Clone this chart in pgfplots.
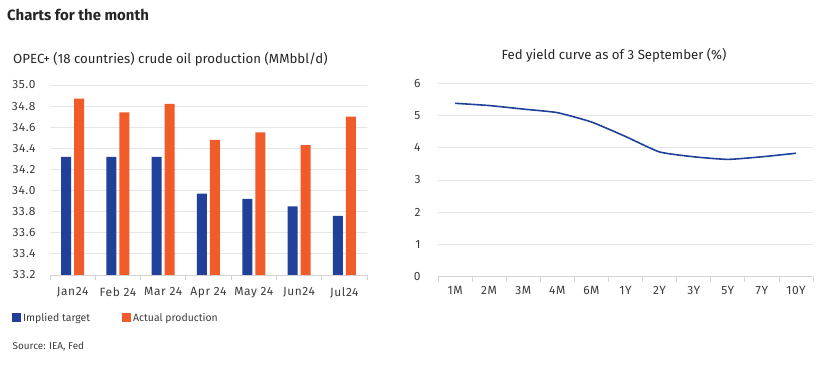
\documentclass[border=0pt]{standalone}
\usepackage{fontspec}
\setmainfont{Fira Sans}
\newfontfamily\tickfont{Fira Sans}[LetterSpace=5]
\usepackage{pgfplots}
\pgfplotsset{compat=1.18}
\definecolor{cblue}{HTML}{21409A}
\definecolor{corange}{HTML}{F15A29}
\definecolor{cgrid}{HTML}{E6E6E6}
\definecolor{caxis}{HTML}{D4D4D4}
\definecolor{ctext}{HTML}{3C3C3C}

\pgfplotsset{
  mystyle/.style={
    scale only axis,
    anchor=south west,
    axis x line*=bottom,
    axis y line*=left,
    y axis line style={draw=none},
    x axis line style={caxis, line width=0.8bp},
    ymajorgrids,
    grid style={cgrid, line width=0.8bp},
    major tick length=0pt,
    minor tick length=5bp,
    tick align=outside,
    minor tick style={caxis, line width=0.8bp},
    xtick=data,
    ticklabel style={font=\tickfont\fontsize{12}{12}\selectfont, text=ctext},
    /pgf/number format/assume math mode=true,
  }
}

\begin{document}
\begin{tikzpicture}
\path[use as bounding box] (0bp,0bp) rectangle (830bp,366bp);
\node[anchor=west, font=\fontsize{15}{15}\selectfont\bfseries, text=black!85, inner sep=0] at (7bp,351bp) {Charts for the month};
\node[anchor=west, font=\fontsize{13.3}{13.3}\selectfont, text=black!85, inner sep=0] at (13bp,307bp) {OPEC+ (18 countries) crude oil production (MMbbl/d)};
\node[font=\fontsize{13.3}{13.3}\selectfont, text=black!85, inner sep=0] at (614bp,311bp) {Fed yield curve as of 3 September (\%)};
\node[anchor=west, font=\fontsize{10}{10}\selectfont, text=ctext, inner sep=0] at (12.5bp,19bp) {Source: IEA, Fed};

\begin{axis}[mystyle,
  at={(50bp,91bp)}, width=317bp, height=190bp,
  ybar=3bp, bar width=10bp,
  xmin=-0.5, xmax=6.5, ymin=33.2, ymax=35.0,
  ytick={33.2,33.4,33.6,33.8,34.0,34.2,34.4,34.6,34.8,35.0},
  yticklabel style={/pgf/number format/fixed, /pgf/number format/fixed zerofill, /pgf/number format/precision=1, xshift=-11bp},
  xticklabels={Jan24,Feb 24,Mar 24,Apr 24,May 24,Jun24,Jul24},
  minor xtick={-0.5,0.5,1.5,2.5,3.5,4.5,5.5,6.5},
  xticklabel style={yshift=-9bp},
  legend style={draw=none, fill=none, at={(-0.12,-0.226)}, anchor=west,
    font=\fontsize{10.5}{10.5}\selectfont, text=ctext, inner sep=0pt,
    /tikz/every even column/.append style={column sep=30bp}},
  legend columns=2,
  legend image code/.code={\fill[#1] (0bp,-4.5bp) rectangle (9bp,4.5bp);},
]
\addplot[draw=none, fill=cblue] coordinates {(0,34.32) (1,34.32) (2,34.32) (3,33.97) (4,33.92) (5,33.85) (6,33.76)};
\addplot[draw=none, fill=corange] coordinates {(0,34.87) (1,34.74) (2,34.82) (3,34.48) (4,34.55) (5,34.43) (6,34.70)};
\legend{Implied target, Actual production}
\end{axis}

\begin{axis}[mystyle,
  at={(438bp,89.3bp)}, width=375bp, height=193.4bp,
  xmin=-0.5, xmax=10.5, ymin=0, ymax=6,
  ytick={0,1,2,3,4,5,6},
  xticklabels={1M,2M,3M,4M,6M,1Y,2Y,3Y,5Y,7Y,10Y},
  minor xtick={-0.5,0.5,...,10.5},
  xticklabel style={yshift=-6bp},
  yticklabel style={xshift=-14bp},
]
\addplot[cblue, line width=1.6bp, smooth, tension=0.3, mark=none] coordinates {
 (0,5.38) (1,5.31) (2,5.20) (3,5.09) (4,4.80) (5,4.35) (6,3.87) (7,3.72) (8,3.64) (9,3.72) (10,3.83)};
\end{axis}
\end{tikzpicture}
\end{document}
